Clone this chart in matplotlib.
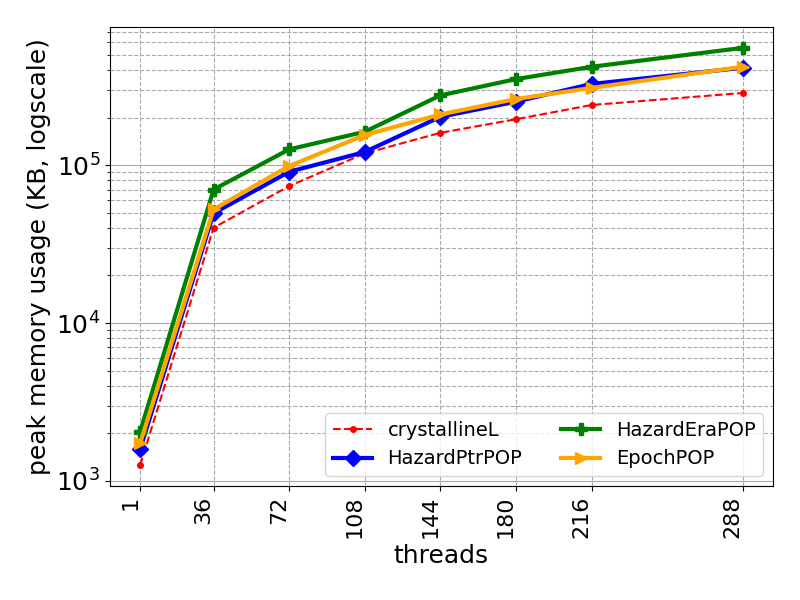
import matplotlib
matplotlib.use('Agg')
import matplotlib.pyplot as plt

threads = [1, 36, 72, 108, 144, 180, 216, 288]

crystallineL = [1260, 40100, 73600, 118600, 160000, 195000, 240000, 286000]
hazardptr = [1590, 49500, 90700, 121000, 202000, 252000, 326000, 413000]
hazardera = [2050, 70000, 125700, 162500, 276000, 350000, 419000, 552000]
epoch = [1730, 52400, 98600, 155000, 209000, 262000, 308000, 419000]

fig, ax = plt.subplots(figsize=(8, 6), dpi=100)

ax.plot(threads, crystallineL, color='red', linestyle='--', marker='.', markersize=8,
        linewidth=1.5, label='crystallineL')
ax.plot(threads, hazardptr, color='blue', linestyle='-', marker='D', markersize=8,
        linewidth=3, label='HazardPtrPOP')
ax.plot(threads, hazardera, color='green', linestyle='-', marker='P', markersize=8,
        linewidth=3, label='HazardEraPOP')
ax.plot(threads, epoch, color='orange', linestyle='-', marker='>', markersize=8,
        linewidth=3, label='EpochPOP')

ax.set_yscale('log')
ax.set_xticks(threads)
ax.set_xticklabels([str(t) for t in threads], rotation=90, ha='right', fontsize=16)
ax.tick_params(axis='y', which='major', labelsize=18)

ax.yaxis.grid(True, which='major', linestyle='-', color='darkgray')
ax.yaxis.grid(True, which='minor', linestyle='--', color='darkgray')
ax.xaxis.grid(True, which='major', linestyle='--', color='darkgray')

ax.set_xlabel('threads', fontsize=18)
ax.set_ylabel('peak memory usage (KB, logscale)', fontsize=18)
ax.legend(loc='lower right', ncol=2, fontsize=14)

plt.subplots_adjust(left=0.1375, right=0.966, top=0.955, bottom=0.19)
plt.savefig('out.png')
